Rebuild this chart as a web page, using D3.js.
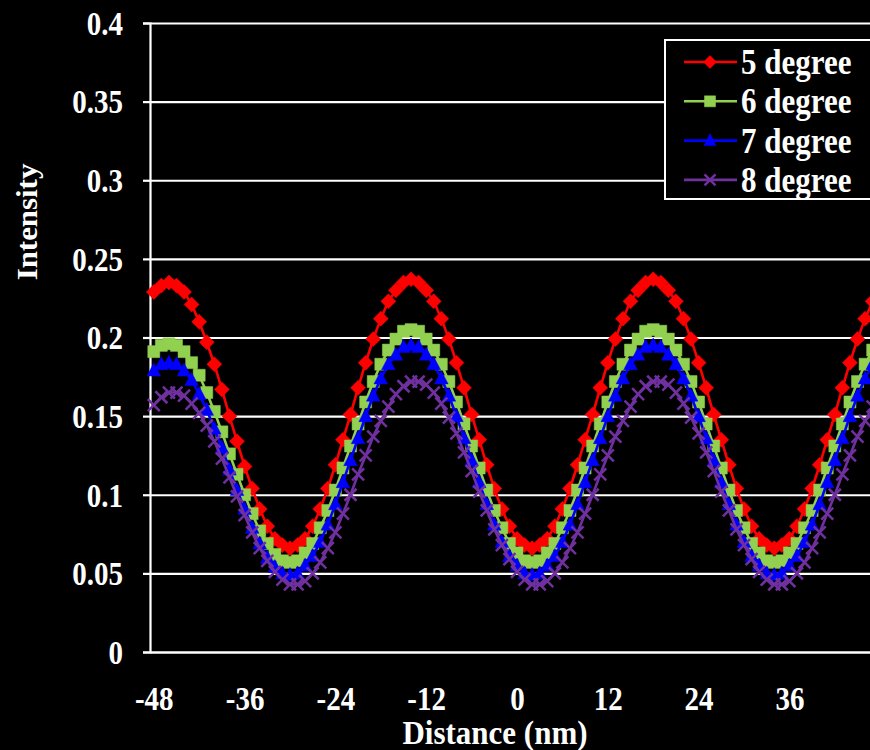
<!DOCTYPE html>
<html><head><meta charset="utf-8">
<script src="https://cdn.jsdelivr.net/npm/d3@7/dist/d3.min.js"></script>
<style>html,body{margin:0;padding:0;background:#000;overflow:hidden}</style>
</head><body><svg id="c" width="870" height="750"></svg>
<script>
const distance = [-48,-47,-46,-45,-44,-43,-42,-41,-40,-39,-38,-37,-36,-35,-34,-33,-32,-31,-30,-29,-28,-27,-26,-25,-24,-23,-22,-21,-20,-19,-18,-17,-16,-15,-14,-13,-12,-11,-10,-9,-8,-7,-6,-5,-4,-3,-2,-1,0,1,2,3,4,5,6,7,8,9,10,11,12,13,14,15,16,17,18,19,20,21,22,23,24,25,26,27,28,29,30,31,32,33,34,35,36,37,38,39,40,41,42,43,44,45,46,47,48];
const deg5 = [0.229,0.233,0.235,0.233,0.229,0.221,0.210,0.197,0.183,0.167,0.150,0.134,0.118,0.104,0.091,0.080,0.072,0.068,0.066,0.068,0.072,0.080,0.091,0.104,0.119,0.135,0.151,0.168,0.184,0.199,0.212,0.223,0.230,0.235,0.237,0.235,0.230,0.223,0.212,0.199,0.184,0.168,0.151,0.135,0.119,0.104,0.091,0.080,0.072,0.068,0.066,0.068,0.072,0.080,0.091,0.104,0.119,0.135,0.151,0.168,0.184,0.199,0.212,0.223,0.230,0.235,0.237,0.235,0.230,0.223,0.212,0.199,0.184,0.168,0.151,0.135,0.119,0.104,0.091,0.080,0.072,0.068,0.066,0.068,0.072,0.080,0.091,0.104,0.119,0.135,0.151,0.168,0.184,0.199,0.212,0.223,0.230];
const deg6 = [0.191,0.195,0.196,0.195,0.191,0.184,0.176,0.165,0.153,0.140,0.126,0.113,0.100,0.088,0.077,0.069,0.062,0.058,0.057,0.058,0.063,0.069,0.079,0.090,0.103,0.117,0.131,0.145,0.159,0.172,0.183,0.192,0.199,0.204,0.205,0.204,0.199,0.192,0.183,0.172,0.159,0.145,0.131,0.117,0.103,0.090,0.079,0.069,0.063,0.058,0.057,0.058,0.063,0.069,0.079,0.090,0.103,0.117,0.131,0.145,0.159,0.172,0.183,0.192,0.199,0.204,0.205,0.204,0.199,0.192,0.183,0.172,0.159,0.145,0.131,0.117,0.103,0.090,0.079,0.069,0.063,0.058,0.057,0.058,0.063,0.069,0.079,0.090,0.103,0.117,0.131,0.145,0.159,0.172,0.183,0.192,0.199];
const deg7 = [0.179,0.183,0.184,0.183,0.179,0.173,0.164,0.154,0.142,0.130,0.116,0.103,0.091,0.079,0.069,0.060,0.054,0.050,0.049,0.050,0.055,0.061,0.070,0.081,0.094,0.108,0.122,0.136,0.150,0.163,0.174,0.183,0.189,0.194,0.195,0.194,0.189,0.183,0.174,0.163,0.150,0.136,0.122,0.108,0.094,0.081,0.070,0.061,0.055,0.050,0.049,0.050,0.055,0.061,0.070,0.081,0.094,0.108,0.122,0.136,0.150,0.163,0.174,0.183,0.189,0.194,0.195,0.194,0.189,0.183,0.174,0.163,0.150,0.136,0.122,0.108,0.094,0.081,0.070,0.061,0.055,0.050,0.049,0.050,0.055,0.061,0.070,0.081,0.094,0.108,0.122,0.136,0.150,0.163,0.174,0.183,0.189];
const deg8 = [0.157,0.162,0.165,0.165,0.163,0.158,0.152,0.144,0.134,0.123,0.111,0.099,0.087,0.076,0.066,0.058,0.051,0.046,0.043,0.043,0.045,0.050,0.057,0.066,0.076,0.088,0.100,0.113,0.125,0.137,0.147,0.156,0.164,0.169,0.172,0.172,0.170,0.165,0.158,0.149,0.139,0.127,0.115,0.102,0.090,0.078,0.068,0.059,0.051,0.046,0.043,0.043,0.045,0.050,0.057,0.066,0.076,0.088,0.100,0.113,0.125,0.137,0.147,0.156,0.164,0.169,0.172,0.172,0.170,0.165,0.158,0.149,0.139,0.127,0.115,0.102,0.090,0.078,0.068,0.059,0.051,0.046,0.043,0.043,0.045,0.050,0.057,0.066,0.076,0.088,0.100,0.113,0.125,0.137,0.147,0.156,0.164];
const seriesNames = ["5 degree","6 degree","7 degree","8 degree"];
const seriesColors = ["#FF0000","#92D050","#0000FF","#7030A0"];
const yTicks = [0,0.05,0.1,0.15,0.2,0.25,0.3,0.35,0.4];
const yTickLabels = ["0","0.05","0.1","0.15","0.2","0.25","0.3","0.35","0.4"];
const xTicks = [-48,-36,-24,-12,0,12,24,36];
const xTickLabels = ["-48","-36","-24","-12","0","12","24","36"];
const xTitle = "Distance (nm)";
const yTitle = "Intensity";

const FONT = "'Liberation Serif','Times New Roman',serif";
const SY = 1.15; // vertical text stretch seen in the reference
const mLeft = 150, mRight = 884, mTop = 23, mBottom = 652;
const svg = d3.select("#c");
svg.append("rect").attr("width",870).attr("height",750).attr("fill","#000");

const x = d3.scaleLinear().domain([-48.5, 48.5]).range([mLeft, mRight]);
const y = d3.scaleLinear().domain([0, 0.4]).range([mBottom, mTop]);

// gridlines
const grid = svg.append("g").attr("transform",`translate(${mLeft},0)`)
  .call(d3.axisLeft(y).tickValues(yTicks).tickSize(-(mRight-mLeft)).tickFormat(""));
grid.select(".domain").remove();
grid.selectAll("line").attr("stroke","#fff").attr("stroke-width",2.2);

// y axis
const yAx = svg.append("g").attr("transform",`translate(${mLeft},0)`)
  .call(d3.axisLeft(y).tickValues(yTicks).tickSize(7).tickPadding(20)
    .tickFormat((d,i)=>yTickLabels[i]));
yAx.select(".domain").attr("stroke","#fff").attr("stroke-width",2.2);
yAx.selectAll("line").attr("stroke","#fff").attr("stroke-width",2.2);
yAx.selectAll("text").attr("fill","#fff").attr("font-family",FONT)
  .attr("font-weight","bold").attr("font-size",29).attr("dy","0.34em")
  .attr("transform",`scale(1,${SY})`);

// x axis
const xAx = svg.append("g").attr("transform",`translate(0,${mBottom})`)
  .call(d3.axisBottom(x).tickValues(xTicks).tickSize(0).tickPadding(30)
    .tickFormat((d,i)=>xTickLabels[i]));
xAx.select(".domain").attr("stroke","#fff").attr("stroke-width",2.2);
xAx.selectAll("text").attr("fill","#fff").attr("font-family",FONT)
  .attr("font-weight","bold").attr("font-size",29)
  .attr("transform",`scale(1,${SY})`);

// titles
svg.append("text").attr("transform",`translate(495,744) scale(1,1.08)`).attr("text-anchor","middle")
  .attr("fill","#fff").attr("font-family",FONT).attr("font-weight","bold")
  .attr("font-size",31).text(xTitle);
svg.append("text").attr("transform","translate(37,222) rotate(-90) scale(1.03,1)").attr("text-anchor","middle")
  .attr("fill","#fff").attr("font-family",FONT).attr("font-weight","bold")
  .attr("font-size",30).text(yTitle);

// markers
const markers = [
  {d:"M0,-7.5L7.5,0L0,7.5L-7.5,0Z", fill:true},
  {d:"M-6,-6H6V6H-6Z", fill:true},
  {d:"M0,-7.5L6.8,5.5L-6.8,5.5Z", fill:true},
  {d:"M-6,-6L6,6M6,-6L-6,6", fill:false}
];
const allSeries = [deg5, deg6, deg7, deg8];
const line = d3.line().x((d,i)=>x(distance[i])).y(d=>y(d));
allSeries.forEach((vals, s) => {
  const g = svg.append("g");
  g.append("path").datum(vals).attr("d", line).attr("fill","none")
    .attr("stroke", seriesColors[s]).attr("stroke-width", 2.6);
  g.selectAll("path.m").data(vals).join("path").attr("class","m")
    .attr("transform",(d,i)=>`translate(${x(distance[i])},${y(d)})`)
    .attr("d", markers[s].d)
    .attr("fill", markers[s].fill ? seriesColors[s] : "none")
    .attr("stroke", seriesColors[s])
    .attr("stroke-width", markers[s].fill ? 0.5 : 2.5);
});

// legend
const lg = svg.append("g");
lg.append("rect").attr("x",665).attr("y",40).attr("width",230).attr("height",159)
  .attr("fill","#000").attr("stroke","#fff").attr("stroke-width",2);
const legMarkers = [
  "M0,-6.5L6.5,0L0,6.5L-6.5,0Z",
  "M-5.5,-5.5H5.5V5.5H-5.5Z",
  "M0,-7L6,5L-6,5Z",
  "M-5.5,-5.5L5.5,5.5M5.5,-5.5L-5.5,5.5"
];
seriesNames.forEach((name, s) => {
  const cy = 62 + s*39.3;
  lg.append("line").attr("x1",684).attr("x2",737).attr("y1",cy).attr("y2",cy)
    .attr("stroke",seriesColors[s]).attr("stroke-width",2.6);
  lg.append("path").attr("transform",`translate(710,${cy})`).attr("d",legMarkers[s])
    .attr("fill", markers[s].fill ? seriesColors[s] : "none")
    .attr("stroke", seriesColors[s]).attr("stroke-width", markers[s].fill ? 0.5 : 2.5);
  lg.append("text").attr("transform",`translate(741,${cy}) scale(1,${SY})`).attr("dy","0.34em")
    .attr("fill","#fff").attr("font-family",FONT).attr("font-weight","bold")
    .attr("font-size",31).text(name);
});
</script></body></html>
